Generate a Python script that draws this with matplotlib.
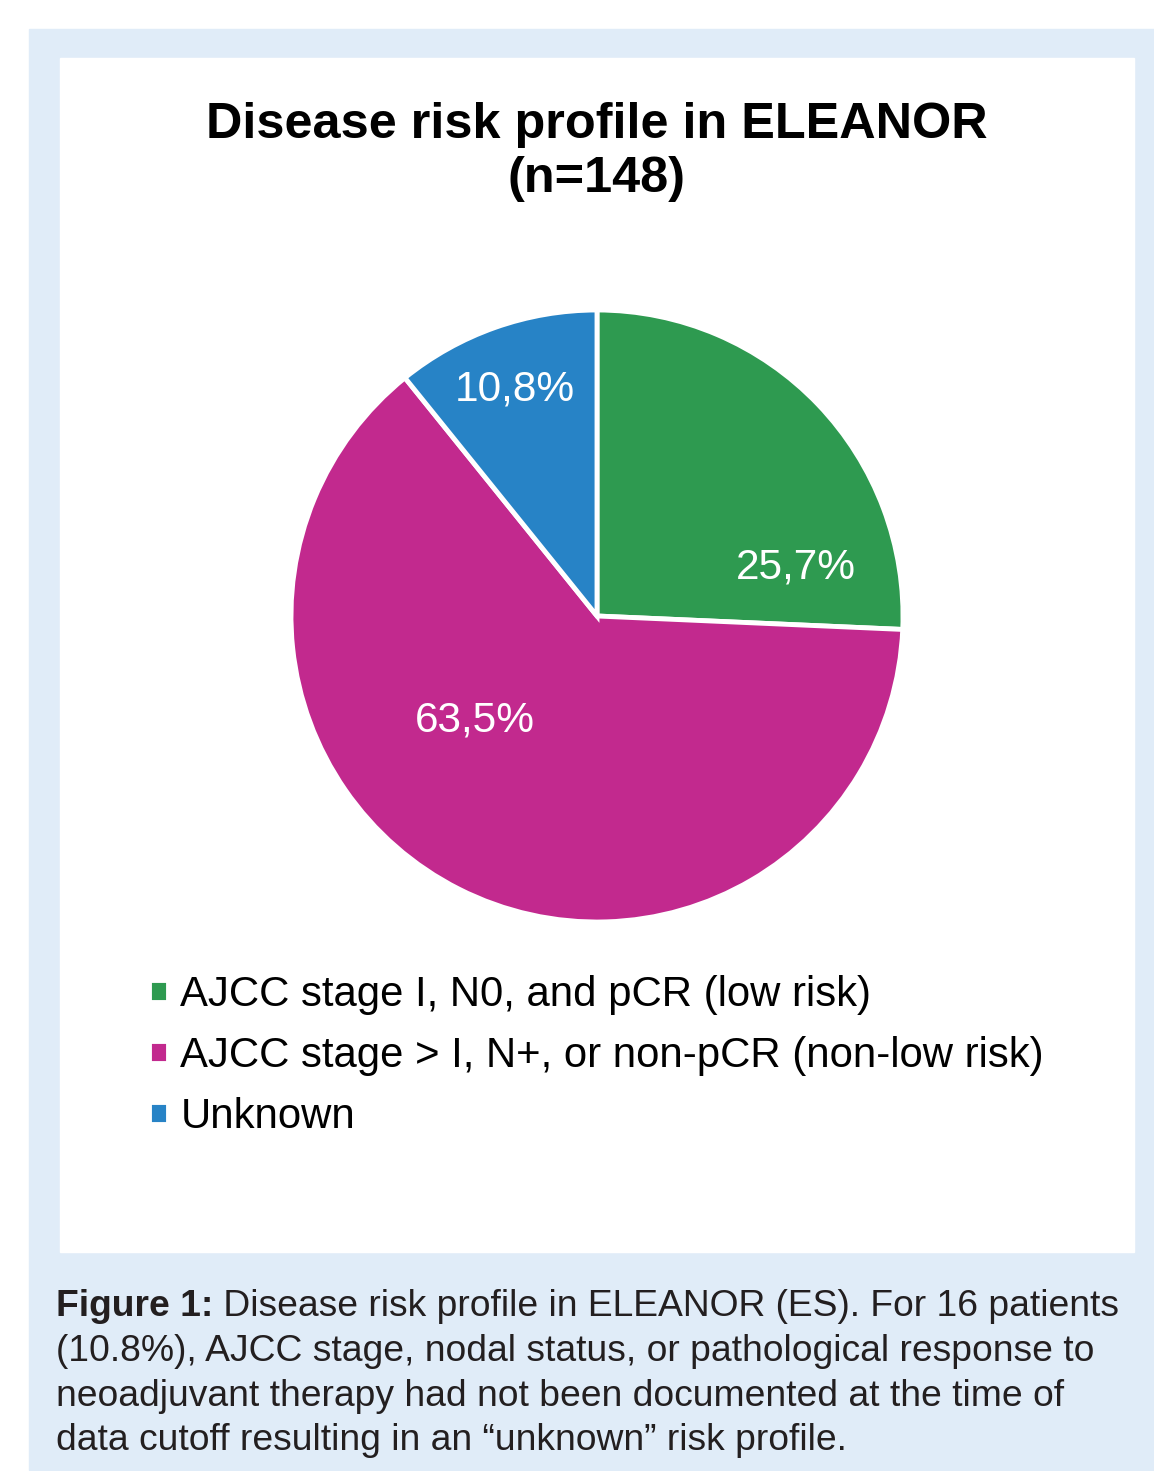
import matplotlib.pyplot as plt
from matplotlib.patches import Rectangle

plt.rcParams['font.family'] = ['Liberation Sans', 'DejaVu Sans']

# data
labels = ['AJCC stage I, N0, and pCR (low risk)',
          'AJCC stage > I, N+, or non-pCR (non-low risk)',
          'Unknown']
shares = [25.7, 63.5, 10.8]
share_text = ['25,7%', '63,5%', '10,8%']
colors = ['#2e9a50', '#c2298e', '#2783c6']

W, H = 1154, 1471
fig = plt.figure(figsize=(W / 100, H / 100), dpi=100)

# light blue frame and white panel (behind everything)
def px_rect(x0, y0, x1, y1, color):
    fig.patches.append(Rectangle((x0 / W, 1 - y1 / H), (x1 - x0) / W, (y1 - y0) / H,
                                 transform=fig.transFigure, color=color, zorder=-2))

px_rect(29, 29, W, 1470, '#e0ecf8')
px_rect(60, 58, 1134, 1252, 'white')

# pie axes, center ~ (597, 617), radius ~ 304
cx, cy, r = 597, 616, 306
ax = fig.add_axes([(cx - r) / W, 1 - (cy + r) / H, 2 * r / W, 2 * r / H])
ax.set_zorder(1)
ax.patch.set_visible(False)
wedges, _ = ax.pie(shares, colors=colors, startangle=90, counterclock=False,
                   wedgeprops=dict(edgecolor='white', linewidth=3.5))
ax.set_xlim(-1, 1)
ax.set_ylim(-1, 1)
ax.set_aspect('equal')

label_pos = [(0.65, 0.16), (-0.40, -0.34), (-0.27, 0.74)]
for (x, y), t in zip(label_pos, share_text):
    ax.text(x, y, t, color='white', fontsize=30.5, ha='center', va='center')

fig.text(597 / W, 1 - 152 / H, 'Disease risk profile in ELEANOR\n(n=148)',
         ha='center', va='center', fontsize=36.3, fontweight='bold',
         linespacing=1.22, color='black')

leg = fig.legend(wedges, labels, loc='upper left', bbox_to_anchor=(149 / W, 1 - 975 / H),
                 frameon=False, fontsize=30.2, handlelength=0.45, handleheight=0.45,
                 handletextpad=0.3, labelspacing=0.5, borderpad=0, borderaxespad=0)
leg.set_zorder(2)

caption = [
    ('Figure 1:', ' Disease risk profile in ELEANOR (ES). For 16 patients'),
    (None, '(10.8%), AJCC stage, nodal status, or pathological response to'),
    (None, 'neoadjuvant therapy had not been documented at the time of'),
    (None, 'data cutoff resulting in an \u201cunknown\u201d risk profile.'),
]
y0 = 1307
for i, (bold, rest) in enumerate(caption):
    y = 1 - (y0 + i * 44.5) / H
    if bold:
        tb = fig.text(56 / W, y, bold, fontsize=26.8, fontweight='bold',
                      color='#231f20', va='center', ha='left')
        fig.canvas.draw()
        bb = tb.get_window_extent()
        fig.text(bb.x1 / W, y, rest, fontsize=26.8, color='#231f20', va='center', ha='left')
    else:
        fig.text(56 / W, y, rest, fontsize=26.8, color='#231f20', va='center', ha='left')

fig.savefig('out.png', dpi=100)
